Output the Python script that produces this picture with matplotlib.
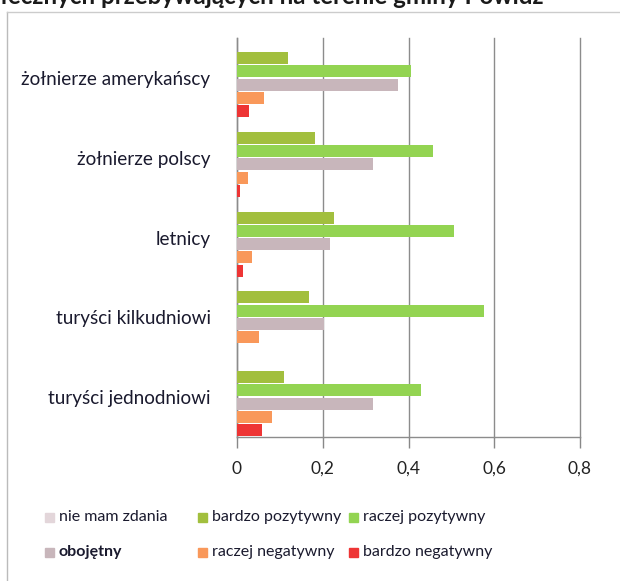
import matplotlib
matplotlib.use("Agg")
import matplotlib.pyplot as plt
from matplotlib.patches import Rectangle
import numpy as np

plt.rcParams['font.family'] = ['Lato', 'DejaVu Sans']

# data
categories = ['żołnierze amerykańscy', 'żołnierze polscy', 'letnicy',
              'turyści kilkudniowi', 'turyści jednodniowi']
series = ['nie mam zdania', 'bardzo pozytywny', 'raczej pozytywny',
          'obojętny', 'raczej negatywny', 'bardzo negatywny']
nie_mam_zdania   = [0.0, 0.0, 0.0, 0.0, 0.0]
bardzo_pozytywny = [0.119, 0.183, 0.226, 0.168, 0.109]
raczej_pozytywny = [0.406, 0.457, 0.506, 0.575, 0.428]
obojetny         = [0.376, 0.318, 0.216, 0.202, 0.318]
raczej_negatywny = [0.062, 0.025, 0.036, 0.052, 0.081]
bardzo_negatywny = [0.028, 0.008, 0.014, 0.0, 0.058]
xticks = [0, 0.2, 0.4, 0.6, 0.8]
xtick_labels = ['0', '0,2', '0,4', '0,6', '0,8']

values = [nie_mam_zdania, bardzo_pozytywny, raczej_pozytywny,
          obojetny, raczej_negatywny, bardzo_negatywny]
colors = ['#e3d6da', '#a2bf3e', '#93d452', '#c8b6bb', '#f9985a', '#ee3535']

fig = plt.figure(figsize=(6.2, 5.81), dpi=100)
ax = fig.add_axes([237 / 620, 1 - 437 / 581, (580 - 237) / 620, (437 - 38) / 581])

pos = np.arange(len(categories)) + 0.5
slot = 1 / len(series)
for i, (vals, col) in enumerate(zip(values, colors)):
    off = (i - (len(series) - 1) / 2) * slot
    ax.barh(pos + off, vals, height=slot * 0.9, color=col, zorder=3)

ax.set_xlim(0, 0.8)
ax.set_ylim(len(categories), 0)
ax.set_xticks(xticks)
ax.set_xticklabels(xtick_labels, fontsize=12.5, color='#222222')
ax.set_yticks(pos)
ax.set_yticklabels(categories, fontsize=13.6, color='#1a1a2e')
ax.tick_params(axis='y', length=0, pad=19)
ax.tick_params(axis='x', length=8, width=1, color='#888888', pad=9, direction='out')
ax.grid(axis='x', color='#8c8c8c', linewidth=1, zorder=0)
for gl in ax.get_xgridlines():
    gl.set_clip_on(False)
for s in ['top', 'right']:
    ax.spines[s].set_visible(False)
for s in ['left', 'bottom']:
    ax.spines[s].set_color('#8c8c8c')
    ax.spines[s].set_linewidth(1)

# frame of the scanned chart
fig.add_artist(plt.Line2D([7 / 620, 7 / 620], [0, 1 - 12 / 581],
                          transform=fig.transFigure, color='#bbbbbb', lw=1))
fig.add_artist(plt.Line2D([7 / 620, 1], [1 - 12 / 581, 1 - 12 / 581],
                          transform=fig.transFigure, color='#cccccc', lw=1))

# title, cut at the top of the scan
fig.text(0, 1 - 4 / 581, 'łecznych przebywających na terenie gminy Powidz',
         fontsize=17.4, fontweight='bold', color='#1a1a1a', va='baseline', ha='left')

# legend
leg_x = [45, 198, 349, 45, 198, 349]
leg_y = [517, 517, 517, 552, 552, 552]
leg_order = [0, 1, 2, 3, 4, 5]
for k, idx in enumerate(leg_order):
    x, y = leg_x[k], leg_y[k]
    fig.add_artist(Rectangle((x / 620, 1 - (y + 4.5) / 581), 9 / 620, 9 / 581,
                             transform=fig.transFigure, color=colors[idx]))
    fig.text((x + 14) / 620, 1 - y / 581, series[idx], fontsize=11.5,
             color='#1a1a2e', va='center', ha='left',
             fontweight='bold' if series[idx] == 'obojętny' else 'normal')

fig.savefig('out.png', dpi=100, facecolor='white')
